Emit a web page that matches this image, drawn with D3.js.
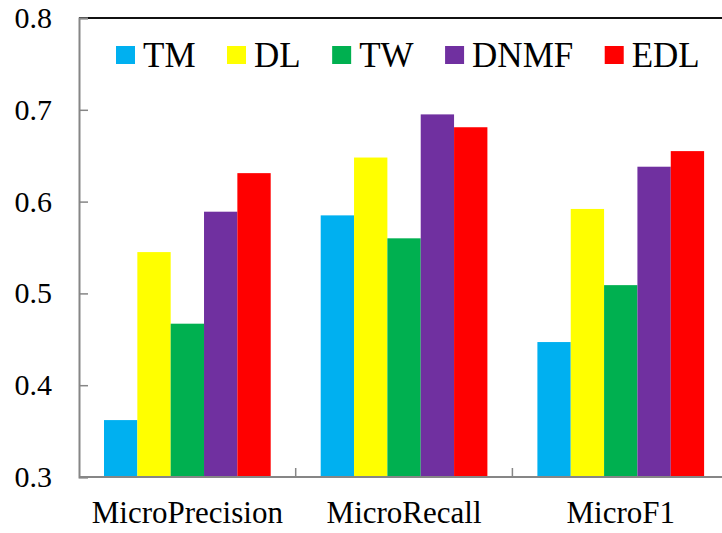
<!DOCTYPE html>
<html>
<head>
<meta charset="utf-8">
<script src="https://cdn.jsdelivr.net/npm/d3@7"></script>
<style>
  html, body { margin: 0; padding: 0; background: #fff; }
  svg { display: block; }
</style>
</head>
<body>
<svg id="chart" width="722" height="533"></svg>
<script>
// Metrics and methods compared
const categories = ["MicroPrecision", "MicroRecall", "MicroF1"];
const methods = ["TM", "DL", "TW", "DNMF", "EDL"];
const colors = ["#00B0F0", "#FFFF00", "#00B050", "#7030A0", "#FF0000"];

// Scores per method, one value per metric
const tmValues   = [0.362, 0.585, 0.447];
const dlValues   = [0.545, 0.648, 0.592];
const twValues   = [0.467, 0.560, 0.509];
const dnmfValues = [0.589, 0.695, 0.638];
const edlValues  = [0.631, 0.681, 0.655];

const yTicks = [0.3, 0.4, 0.5, 0.6, 0.7, 0.8];

const seriesValues = [tmValues, dlValues, twValues, dnmfValues, edlValues];

const serif = "Liberation Serif, Times New Roman, Times, Tinos, Nimbus Roman, Noto Serif, DejaVu Serif, FreeSerif, serif";

const svg = d3.select("#chart");
const plotLeft = 79, plotTop = 18, plotBottom = 477, bandW = 216.7;

const x0 = d3.scaleBand().domain(categories)
  .range([plotLeft, plotLeft + bandW * categories.length]).padding(0);
const x1 = d3.scaleBand().domain(methods)
  .range([25, bandW - 25]).padding(0);
const y = d3.scaleLinear().domain([0.3, 0.8]).range([plotBottom, plotTop]);
const color = d3.scaleOrdinal().domain(methods).range(colors);

// Bars
const groups = svg.append("g").selectAll("g")
  .data(categories)
  .join("g")
  .attr("transform", d => `translate(${x0(d)},0)`);

groups.selectAll("rect")
  .data((c, ci) => methods.map((m, mi) => ({ m, v: seriesValues[mi][ci] })))
  .join("rect")
  .attr("x", d => x1(d.m))
  .attr("width", x1.bandwidth())
  .attr("y", d => y(d.v))
  .attr("height", d => y(0.3) - y(d.v))
  .attr("fill", d => color(d.m));

// Top frame line
svg.append("line")
  .attr("x1", plotLeft).attr("x2", 722)
  .attr("y1", plotTop).attr("y2", plotTop)
  .attr("stroke", "#111").attr("stroke-width", 2);

// Left axis: ticks pointing inward
const yAxis = svg.append("g")
  .attr("transform", `translate(${plotLeft},0)`)
  .call(d3.axisRight(y).tickValues(yTicks).tickSize(9).tickFormat(""));
yAxis.select(".domain").attr("stroke", "#868686").attr("stroke-width", 2);
yAxis.selectAll(".tick line").attr("stroke", "#868686").attr("stroke-width", 1.5);

svg.append("g").selectAll("text")
  .data(yTicks)
  .join("text")
  .attr("x", 52)
  .attr("y", d => y(d) + 10)
  .attr("text-anchor", "end")
  .style("font-family", serif)
  .style("font-size", "30px")
  .attr("fill", "#000")
  .text(d => d3.format(".1f")(d));

// Bottom axis: ticks at category boundaries, pointing upward
const xAxis = svg.append("g")
  .attr("transform", `translate(0,${plotBottom})`);
xAxis.append("line")
  .attr("x1", plotLeft).attr("x2", 722)
  .attr("y1", 0).attr("y2", 0)
  .attr("stroke", "#868686").attr("stroke-width", 2);
xAxis.selectAll("line.tk")
  .data(categories.slice(1))
  .join("line")
  .attr("class", "tk")
  .attr("x1", d => x0(d)).attr("x2", d => x0(d))
  .attr("y1", 0).attr("y2", -9)
  .attr("stroke", "#868686").attr("stroke-width", 1.5);
xAxis.selectAll("text")
  .data(categories)
  .join("text")
  .attr("x", d => x0(d) + x0.bandwidth() / 2)
  .attr("y", 46)
  .attr("text-anchor", "middle")
  .style("font-family", serif)
  .style("font-size", "31px")
  .attr("fill", "#000")
  .text(d => d);

// Legend laid out left to right from measured text widths
const legend = svg.append("g");
let lx = 116;
methods.forEach(m => {
  legend.append("rect")
    .attr("x", lx).attr("y", 46)
    .attr("width", 19).attr("height", 18)
    .attr("fill", color(m));
  const t = legend.append("text")
    .attr("x", lx + 27).attr("y", 67)
    .style("font-family", serif)
    .style("font-size", "35px")
    .attr("fill", "#000")
    .text(m);
  lx += 27 + t.node().getComputedTextLength() + 31.5;
});
</script>
</body>
</html>
